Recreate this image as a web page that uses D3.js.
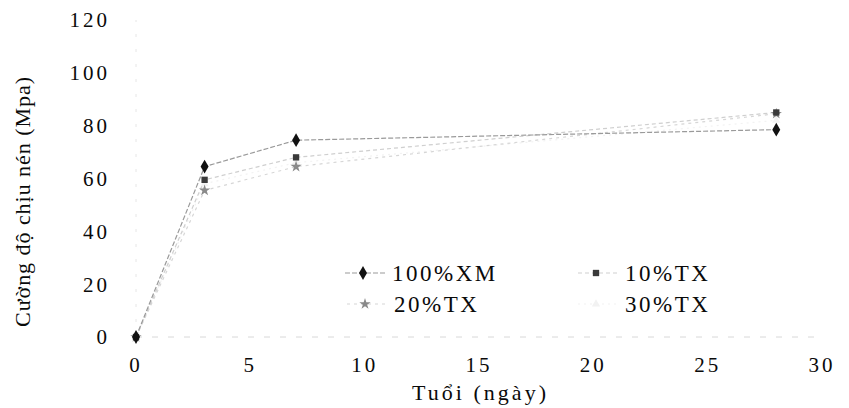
<!DOCTYPE html>
<html>
<head>
<meta charset="utf-8">
<script src="https://cdn.jsdelivr.net/npm/d3@7"></script>
<style>
  html, body { margin: 0; padding: 0; background: #fff; }
  #chart text { font-family: "Liberation Serif", "Times New Roman", Times, serif; }
</style>
</head>
<body>
<svg id="chart" width="849" height="408"></svg>
<script>
// Compressive strength vs. curing age
const ages = [0, 3, 7, 28];
const seriesNames = ["100%XM", "10%TX", "20%TX", "30%TX"];
const xm100 = [0, 64.5, 74.5, 78.5];
const tx10 = [0, 59.5, 68, 85];
const tx20 = [0, 55.5, 64.5, 84.5];
const tx30 = [0, 58, 66, 82];
const xTicks = [0, 5, 10, 15, 20, 25, 30];
const yTicks = [0, 20, 40, 60, 80, 100, 120];
const xTitle = "Tuổi (ngày)";
const yTitle = "Cường độ chịu nén (Mpa)";

const series = [
  { name: seriesNames[0], values: xm100, line: "#9a9a9a", dash: "5,2", marker: d3.symbolDiamond, mSize: 55, mFill: "#111" },
  { name: seriesNames[1], values: tx10, line: "#cfcfcf", dash: "4,3", marker: d3.symbolSquare, mSize: 40, mFill: "#3a3a3a" },
  { name: seriesNames[2], values: tx20, line: "#d6d6d6", dash: "3,4", marker: d3.symbolStar, mSize: 40, mFill: "#8a8a8a" },
  { name: seriesNames[3], values: tx30, line: "#f2f2f2", dash: "2,4", marker: d3.symbolTriangle, mSize: 30, mFill: "#f2f2f2" }
];

const svg = d3.select("#chart");
const x = d3.scaleLinear().domain([0, 30]).range([136, 822]);
const y = d3.scaleLinear().domain([0, 120]).range([337, 20]);
const ink = "#0a0a0a";

// faint axis lines
svg.append("line")
  .attr("x1", x(0)).attr("x2", x(30)).attr("y1", y(0)).attr("y2", y(0))
  .attr("stroke", "#d8d8d8").attr("stroke-dasharray", "6,10");
svg.append("line")
  .attr("x1", x(0)).attr("x2", x(0)).attr("y1", y(0)).attr("y2", y(120))
  .attr("stroke", "#e6e6e6").attr("stroke-dasharray", "3,12");

// tick labels
svg.append("g").selectAll("text").data(yTicks).join("text")
  .attr("x", 110).attr("y", d => y(d)).attr("dy", "0.35em")
  .attr("text-anchor", "end").attr("font-size", 21).attr("letter-spacing", 3)
  .text(d => d);
svg.append("g").selectAll("text").data(xTicks).join("text")
  .attr("x", d => x(d)).attr("y", 365).attr("dy", "0.35em")
  .attr("text-anchor", "middle").attr("font-size", 21).attr("letter-spacing", 3)
  .text(d => d);

// axis titles
svg.append("text")
  .attr("x", x(15)).attr("y", 392).attr("dy", "0.35em")
  .attr("text-anchor", "middle").attr("font-size", 22)
  .attr("textLength", 134).attr("lengthAdjust", "spacing")
  .text(xTitle);
svg.append("text")
  .attr("transform", "translate(22,202) rotate(-90)")
  .attr("text-anchor", "middle").attr("dy", "0.35em").attr("font-size", 22)
  .attr("textLength", 250).attr("lengthAdjust", "spacing")
  .text(yTitle);

// series lines and markers
const line = d3.line().x((d, i) => x(ages[i])).y(d => y(d));
const plot = svg.append("g");
series.slice().reverse().forEach(s => {
  plot.append("path").datum(s.values)
    .attr("d", line).attr("fill", "none")
    .attr("stroke", s.line).attr("stroke-width", 1.2).attr("stroke-dasharray", s.dash);
});
series.slice().reverse().forEach(s => {
  plot.append("g").selectAll("path").data(s.values).join("path")
    .attr("transform", (d, i) => `translate(${x(ages[i])},${y(d)})`)
    .attr("d", d3.symbol().type(s.marker).size(s.mSize))
    .attr("fill", s.mFill);
});

// legend
const legendPos = [[345, 273], [578, 273], [347, 304], [578, 304]];
series.forEach((s, i) => {
  const [lx, ly] = legendPos[i];
  const g = svg.append("g").attr("transform", `translate(${lx},${ly})`);
  g.append("line").attr("x1", 0).attr("x2", 40).attr("y1", 0).attr("y2", 0)
    .attr("stroke", s.line).attr("stroke-width", 1.2).attr("stroke-dasharray", s.dash);
  g.append("path").attr("transform", "translate(18,0)")
    .attr("d", d3.symbol().type(s.marker).size(s.mSize)).attr("fill", s.mFill);
  g.append("text").attr("x", 47).attr("y", 0).attr("dy", "0.35em")
    .attr("font-size", 23).attr("letter-spacing", 2.5).text(s.name);
});

svg.selectAll("text").attr("fill", ink);
</script>
</body>
</html>
